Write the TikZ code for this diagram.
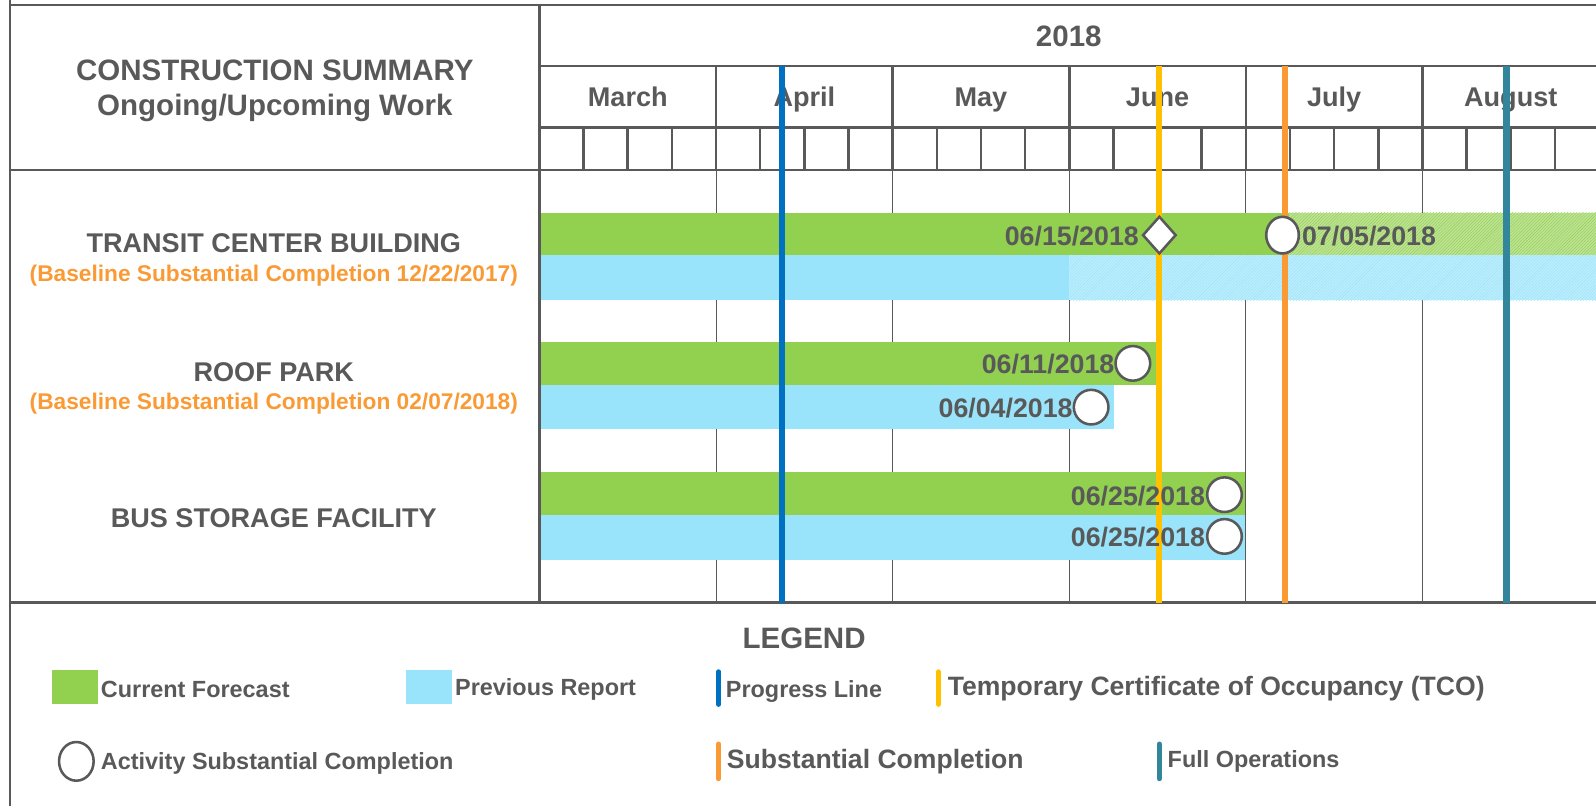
\documentclass[tikz,border=0pt]{standalone}
\usepackage{fontspec}
\setmainfont{Liberation Sans}
\usetikzlibrary{patterns}
\definecolor{gridgray}{HTML}{595959}
\definecolor{fcgreen}{HTML}{92D050}
\definecolor{prevblue}{HTML}{99E4FB}
\definecolor{progblue}{HTML}{0070C0}
\definecolor{tcoyellow}{HTML}{FFC000}
\definecolor{subsorange}{HTML}{F99A34}
\definecolor{fullteal}{HTML}{31869B}
\begin{document}
\begin{tikzpicture}[x=1pt,y=1pt]
\tikzstyle{every node}+=[inner sep=0pt, text=gridgray]
\tikzstyle{titletext}=[font=\fontsize{29}{34}\selectfont\bfseries]
\tikzstyle{montext}=[font=\fontsize{26.6}{31}\selectfont\bfseries]
\tikzstyle{datetext}=[font=\fontsize{26.3}{30}\selectfont\bfseries]
\tikzstyle{basetext}=[font=\fontsize{22.3}{26}\selectfont\bfseries, text=subsorange]
\tikzstyle{lgdtext}=[font=\fontsize{23}{27}\selectfont\bfseries, anchor=west]
\tikzstyle{lgdbig}=[font=\fontsize{26.1}{30}\selectfont\bfseries, anchor=west]
\tikzstyle{thick grid}=[gridgray, line width=2.5pt]
\tikzstyle{thin grid}=[gridgray, line width=1pt]
\tikzstyle{milestone}=[fill=white, draw=gridgray, line width=2.5pt]
\tikzstyle{keyline}=[line width=6pt]
\tikzstyle{keybar}=[line width=5pt, line cap=round]
\useasboundingbox (0,0) rectangle (1568,-792);
% body grid
\draw [thin grid] (703.5,-167) -- (703.5,-592);
\draw [thin grid] (877,-167) -- (877,-592);
\draw [thin grid] (1050.5,-167) -- (1050.5,-592);
\draw [thin grid] (1224,-167) -- (1224,-592);
\draw [thin grid] (1397.5,-167) -- (1397.5,-592);
% bars
\fill [fcgreen] (530,-209) rectangle (1266,-251);
\fill [fcgreen!60] (1266,-209) rectangle (1568,-251);
\fill [pattern=north east lines, pattern color=fcgreen] (1266,-209) rectangle (1568,-251);
\fill [prevblue] (530,-251) rectangle (1050.5,-295);
\fill [prevblue!65] (1050.5,-251) rectangle (1568,-295);
\fill [pattern=north east lines, pattern color=prevblue] (1050.5,-251) rectangle (1568,-295);
\fill [fcgreen] (530,-336) rectangle (1136,-378);
\fill [prevblue] (530,-378) rectangle (1094,-421);
\fill [fcgreen] (530,-464) rectangle (1223,-506);
\fill [prevblue] (530,-506) rectangle (1223,-550);
% header grid
\draw [thick grid] (10,-5) -- (1568,-5);
\draw [thick grid] (10,0) -- (10,-792);
\draw [thick grid] (530,-5) -- (530,-592);
\draw [thick grid] (530,-65) -- (1568,-65);
\draw [thick grid] (530,-125) -- (1568,-125);
\draw [thick grid] (10,-167) -- (1568,-167);
\draw [thick grid] (10,-592) -- (1568,-592);
\draw [thick grid] (703.5,-65) -- (703.5,-167);
\draw [thick grid] (877,-65) -- (877,-167);
\draw [thick grid] (1050.5,-65) -- (1050.5,-167);
\draw [thick grid] (1224,-65) -- (1224,-167);
\draw [thick grid] (1397.5,-65) -- (1397.5,-167);
\foreach \w in {1,...,23}
  \draw [thick grid] ({530+43.375*\w},-125) -- ({530+43.375*\w},-167);
% header texts
\draw (270,-69) node (ttl) [titletext] {CONSTRUCTION SUMMARY};
\draw (270,-106) node (sub) [titletext] {Ongoing/Upcoming Work};
\draw (1050,-36) node (year) [titletext] {2018};
\draw (616.75,-104.5) node (mar) [montext, anchor=base] {March};
\draw (790.25,-104.5) node (apr) [montext, anchor=base] {April};
\draw (963.75,-104.5) node (may) [montext, anchor=base] {May};
\draw (1137.25,-104.5) node (jun) [montext, anchor=base] {June};
\draw (1310.75,-104.5) node (jul) [montext, anchor=base] {July};
\draw (1484.25,-104.5) node (aug) [montext, anchor=base] {August};
% row labels
\draw (269,-239) node (tcb) [montext] {TRANSIT CENTER BUILDING};
\draw (269,-271) node (tcbbase) [basetext] {(Baseline Substantial Completion 12/22/2017)};
\draw (269,-366) node (rpk) [montext] {ROOF PARK};
\draw (269,-397) node (rpkbase) [basetext] {(Baseline Substantial Completion 02/07/2018)};
\draw (269,-509) node (bsf) [montext] {BUS STORAGE FACILITY};
% key dates
\draw [keyline, progblue] (768,-65) -- (768,-592);
\draw [keyline, tcoyellow] (1139,-65) -- (1139,-592);
\draw [keyline, subsorange] (1262,-65) -- (1262,-592);
\draw [keyline, fullteal] (1480,-65) -- (1480,-592);
% milestones
\draw [milestone] (1139,-213) -- (1155,-231) -- (1139,-249) -- (1123,-231) -- cycle;
\draw [milestone] (1260,-231) ellipse (16 and 18);
\draw [milestone] (1113,-357) circle (17);
\draw [milestone] (1072,-400) circle (17);
\draw [milestone] (1203,-486) circle (17);
\draw [milestone] (1203,-527) circle (17);
\draw (1119,-232) node (d1) [datetext, anchor=east] {06/15/2018};
\draw (1279,-232) node (d2) [datetext, anchor=west] {07/05/2018};
\draw (1095,-358) node (d3) [datetext, anchor=east] {06/11/2018};
\draw (1054,-401) node (d4) [datetext, anchor=east] {06/04/2018};
\draw (1184,-487) node (d5) [datetext, anchor=east] {06/25/2018};
\draw (1184,-528) node (d6) [datetext, anchor=east] {06/25/2018};
% legend
\draw (790,-627) node (lgd) [titletext] {LEGEND};
\fill [fcgreen] (51,-658) rectangle (96,-692);
\draw (99,-677) node (lcf) [lgdtext] {Current Forecast};
\fill [prevblue] (399,-658) rectangle (444,-692);
\draw (447,-677) node (lpr) [lgdtext] {Previous Report};
\draw [keybar, progblue] (706,-660) -- (706,-692);
\draw (713,-679) node (lpl) [lgdtext] {Progress Line};
\draw [keybar, tcoyellow] (922,-660) -- (922,-692);
\draw (931,-677) node (ltco) [lgdbig] {Temporary Certificate of Occupancy (TCO)};
\draw [gridgray, line width=2.5pt] (75,-748) ellipse (17 and 19);
\draw (99,-750) node (lasc) [lgdtext] {Activity Substantial Completion};
\draw [keybar, subsorange] (706,-731) -- (706,-765);
\draw (714,-748) node (lsc) [lgdbig] {Substantial Completion};
\draw [keybar, fullteal] (1139,-731) -- (1139,-765);
\draw (1147,-748) node (lfo) [lgdtext] {Full Operations};
\end{tikzpicture}
\end{document}
